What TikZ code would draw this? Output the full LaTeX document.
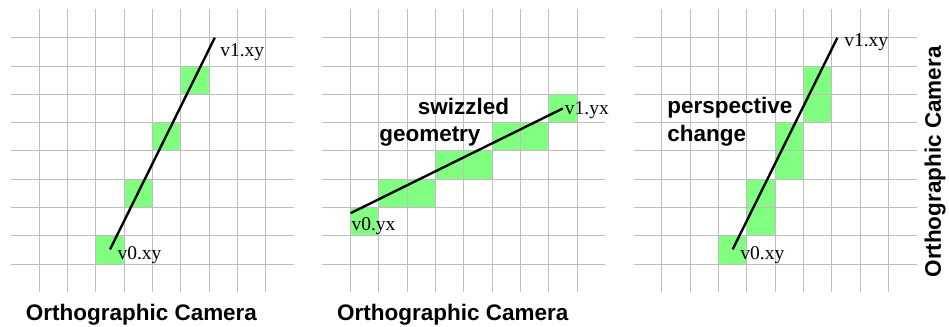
\documentclass[tikz,border=0pt]{standalone}
\usepackage{fontspec}
\setmainfont{Liberation Serif}
\setsansfont{Liberation Sans}
\definecolor{pixgreen}{RGB}{128,255,128}
\definecolor{gridgray}{RGB}{190,190,190}
\tikzset{
  pix/.style={fill=pixgreen},
  gridline/.style={gridgray,line width=0.5pt},
  edge/.style={black,line width=1.2pt},
  vlabel/.style={font=\fontsize{9.8}{11}\selectfont,inner sep=0pt,anchor=base west},
  note/.style={font=\fontsize{11.3}{13}\selectfont\sffamily\bfseries,inner sep=0pt,anchor=base west},
  caption/.style={font=\fontsize{11.3}{13}\selectfont\sffamily\bfseries,inner sep=0pt,anchor=base},
}
% inner lines of a 10x10 pixel grid
\newcommand{\pixgrid}{%
  \foreach \i in {1,...,9} {
    \draw[gridline] (\i,0) -- (\i,10);
    \draw[gridline] (0,\i) -- (10,\i);
  }}
\begin{document}
\begin{tikzpicture}[x=0.5cm,y=0.5cm]
\useasboundingbox (-0.389,-1.188) rectangle (33.145,10.332);
% left: orthographic camera
\fill[pix] (3,1) rectangle (4,2);
\fill[pix] (4,3) rectangle (5,4);
\fill[pix] (5,5) rectangle (6,6);
\fill[pix] (6,7) rectangle (7,8);
\pixgrid
\coordinate (a0) at (3.5,1.52);
\coordinate (a1) at (7.2,9);
\draw[edge] (a0) -- (a1);
\node[vlabel] (a0lbl) at (3.75,1.17) {v0.xy};
\node[vlabel] (a1lbl) at (7.38,8.33) {v1.xy};
\node[caption] (cap1) at (4.61,-1.0) {Orthographic Camera};
% middle: swizzled geometry
\begin{scope}[shift={(11,0)}]
\fill[pix] (1,2) rectangle (2,3);
\fill[pix] (2,3) rectangle (4,4);
\fill[pix] (4,4) rectangle (6,5);
\fill[pix] (6,5) rectangle (8,6);
\fill[pix] (8,6) rectangle (9,7);
\pixgrid
\coordinate (b0) at (1.0,2.8);
\coordinate (b1) at (8.5,6.5);
\draw[edge] (b0) -- (b1);
\node[vlabel] (b0lbl) at (1.02,2.2) {v0.yx};
\node[vlabel] (b1lbl) at (8.56,6.27) {v1.yx};
\node[note] (swz) at (3.36,6.3) {swizzled};
\node[note] (geo) at (2.0,5.33) {geometry};
\node[caption] (cap2) at (4.61,-1.0) {Orthographic Camera};
\end{scope}
% right: perspective change
\begin{scope}[shift={(22,0)}]
\fill[pix] (3,1) rectangle (4,2);
\fill[pix] (4,2) rectangle (5,4);
\fill[pix] (5,4) rectangle (6,6);
\fill[pix] (6,6) rectangle (7,8);
\pixgrid
\coordinate (c0) at (3.5,1.52);
\coordinate (c1) at (7.2,9);
\draw[edge] (c0) -- (c1);
\node[vlabel] (c0lbl) at (3.76,1.17) {v0.xy};
\node[vlabel] (c1lbl) at (7.43,8.68) {v1.xy};
\node[note] (persp) at (1.18,6.33) {perspective};
\node[note] (chg) at (1.18,5.33) {change};
\node[caption,rotate=90] (cap3) at (10.86,4.61) {Orthographic Camera};
\end{scope}
\end{tikzpicture}
\end{document}
